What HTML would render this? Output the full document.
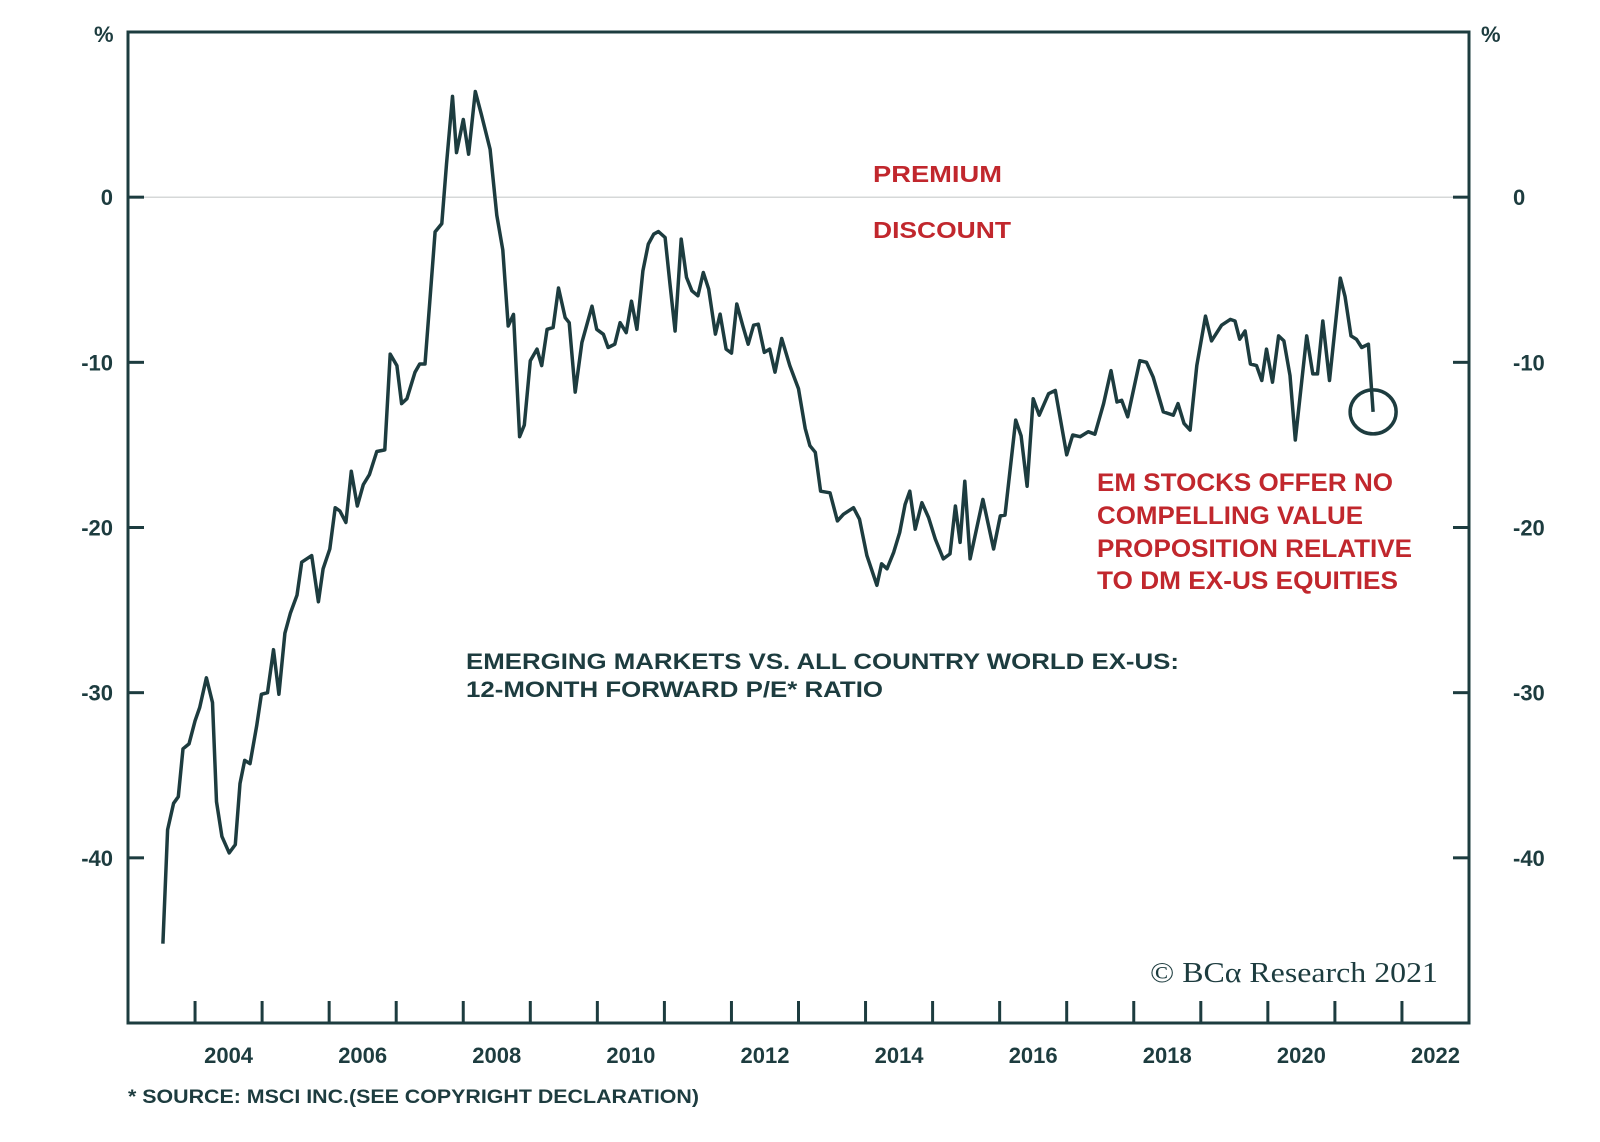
<!DOCTYPE html>
<html><head><meta charset="utf-8"><style>
html,body{margin:0;padding:0;background:#fff;}
svg{display:block;}
text{font-family:"Liberation Sans",Arial,sans-serif;font-weight:bold;}
</style></head><body>
<svg id="chart" width="1600" height="1142" viewBox="0 0 1600 1142">
<g id="axes"></g>
<g id="series"></g>
<g id="labels"></g>
</svg>
<script>
const dates = [2003.52,2003.59,2003.68,2003.75,2003.82,2003.91,2004.0,2004.07,2004.17,2004.26,2004.32,2004.40,2004.51,2004.60,2004.67,2004.74,2004.82,2004.92,2004.99,2005.08,2005.17,2005.25,2005.34,2005.42,2005.52,2005.59,2005.74,2005.84,2005.91,2006.01,2006.09,2006.16,2006.25,2006.33,2006.42,2006.51,2006.60,2006.71,2006.83,2006.91,2007.01,2007.08,2007.16,2007.28,2007.35,2007.43,2007.50,2007.58,2007.68,2007.75,2007.84,2007.90,2008.00,2008.08,2008.18,2008.27,2008.40,2008.50,2008.59,2008.67,2008.75,2008.84,2008.91,2009.00,2009.10,2009.17,2009.25,2009.34,2009.42,2009.52,2009.58,2009.67,2009.77,2009.92,2009.99,2010.09,2010.16,2010.26,2010.34,2010.43,2010.51,2010.59,2010.68,2010.76,2010.84,2010.91,2011.01,2011.08,2011.16,2011.25,2011.33,2011.41,2011.50,2011.58,2011.66,2011.76,2011.83,2011.92,2012.0,2012.08,2012.17,2012.25,2012.33,2012.40,2012.49,2012.57,2012.65,2012.75,2012.87,2013.0,2013.1,2013.17,2013.25,2013.33,2013.47,2013.58,2013.67,2013.82,2013.91,2014.02,2014.17,2014.24,2014.32,2014.42,2014.51,2014.59,2014.66,2014.74,2014.84,2014.94,2015.04,2015.16,2015.26,2015.34,2015.41,2015.48,2015.56,2015.75,2015.91,2016.01,2016.08,2016.24,2016.32,2016.41,2016.50,2016.59,2016.73,2016.83,2017.0,2017.09,2017.2,2017.32,2017.42,2017.55,2017.66,2017.75,2017.82,2017.91,2018.09,2018.19,2018.29,2018.44,2018.59,2018.66,2018.75,2018.84,2018.94,2019.07,2019.16,2019.31,2019.44,2019.51,2019.58,2019.66,2019.74,2019.83,2019.91,2019.98,2020.07,2020.16,2020.24,2020.33,2020.41,2020.58,2020.67,2020.74,2020.82,2020.92,2021.08,2021.15,2021.24,2021.32,2021.40,2021.50,2021.57];
const values = [-45.2,-38.3,-36.7,-36.3,-33.4,-33.1,-31.7,-30.9,-29.1,-30.6,-36.6,-38.7,-39.7,-39.2,-35.5,-34.1,-34.3,-32.0,-30.1,-30.0,-27.4,-30.1,-26.4,-25.2,-24.1,-22.1,-21.7,-24.5,-22.5,-21.3,-18.8,-19.0,-19.7,-16.6,-18.7,-17.4,-16.8,-15.4,-15.3,-9.5,-10.2,-12.5,-12.2,-10.6,-10.1,-10.1,-6.4,-2.1,-1.6,2.0,6.1,2.7,4.7,2.6,6.4,5.0,2.9,-1.1,-3.2,-7.8,-7.1,-14.5,-13.8,-9.9,-9.2,-10.2,-8.0,-7.9,-5.5,-7.3,-7.6,-11.8,-8.8,-6.6,-8.0,-8.3,-9.1,-8.9,-7.6,-8.2,-6.3,-8.0,-4.46,-2.84,-2.24,-2.08,-2.44,-5.16,-8.1,-2.54,-4.86,-5.67,-5.97,-4.56,-5.57,-8.29,-7.08,-9.2,-9.44,-6.47,-7.79,-8.9,-7.75,-7.69,-9.4,-9.2,-10.6,-8.56,-10.2,-11.6,-14.0,-15.05,-15.45,-17.8,-17.9,-19.6,-19.2,-18.8,-19.5,-21.7,-23.5,-22.2,-22.5,-21.5,-20.3,-18.6,-17.8,-20.1,-18.5,-19.4,-20.7,-21.9,-21.6,-18.7,-20.9,-17.2,-21.9,-18.3,-21.3,-19.3,-19.25,-13.5,-14.45,-17.5,-12.2,-13.2,-11.9,-11.7,-15.6,-14.4,-14.5,-14.2,-14.35,-12.5,-10.5,-12.4,-12.3,-13.3,-9.9,-10.0,-10.9,-13.0,-13.2,-12.5,-13.7,-14.1,-10.2,-7.2,-8.7,-7.75,-7.4,-7.5,-8.6,-8.1,-10.1,-10.2,-11.1,-9.2,-11.2,-8.4,-8.7,-10.8,-14.7,-8.4,-10.7,-10.7,-7.5,-11.1,-4.9,-6.0,-8.4,-8.6,-9.1,-8.9,-13.0];
const yTicks = [0,-10,-20,-30,-40];
const yTickLabels = ["0","-10","-20","-30","-40"];
const xTickYears = [2004,2005,2006,2007,2008,2009,2010,2011,2012,2013,2014,2015,2016,2017,2018,2019,2020,2021,2022];
const xLabelYears = [2004,2006,2008,2010,2012,2014,2016,2018,2020,2022];

const NS="http://www.w3.org/2000/svg";
const L=128,R=1469,T=32,B=1023,X0=2003,X1=2023,Y0=10,Y1=-50;
const C="#1d3c3f", RED="#c1272d";
function xs(v){return L+(v-X0)/(X1-X0)*(R-L);}
function ys(v){return T+(Y0-v)/(Y0-Y1)*(B-T);}
function mk(tag,attrs,parent,txt){const e=document.createElementNS(NS,tag);for(const k in attrs)e.setAttribute(k,attrs[k]);if(txt!==undefined)e.textContent=txt;parent.appendChild(e);return e;}
const ax=document.getElementById('axes'), se=document.getElementById('series'), lb=document.getElementById('labels');

let z=mk('line',{x1:L,x2:R,y1:ys(0),y2:ys(0),stroke:"#c8cccc","stroke-width":1.2},ax);


let fr=mk('rect',{x:L,y:T,width:R-L,height:B-T,fill:"none",stroke:C,"stroke-width":3},ax);



yTicks.forEach((v,i)=>{
  let y=ys(v);
  let t1=mk('line',{x1:L,x2:L+16,y1:y,y2:y,stroke:C,"stroke-width":3},ax);
  
  
  let t2=mk('line',{x1:R-16,x2:R,y1:y,y2:y,stroke:C,"stroke-width":3},ax);
  
  
  let a=mk('text',{x:113,y:y+8,"text-anchor":"end","font-size":22,fill:C},lb,yTickLabels[i]);
  
  
  let b=mk('text',{x:1513,y:y+8,"text-anchor":"start","font-size":22,fill:C},lb,yTickLabels[i]);
  
  
});
xTickYears.forEach(v=>{
  let x=xs(v);
  let t=mk('line',{x1:x,x2:x,y1:B-22,y2:B,stroke:C,"stroke-width":3},ax);
  
  
});
xLabelYears.forEach(v=>{
  let t=mk('text',{x:xs(v+0.5),y:1063,"text-anchor":"middle","font-size":22,fill:C},lb,String(v));
  
  
});

let d=dates.map((t,i)=>(i?'L':'M')+xs(t).toFixed(1)+','+ys(values[i]).toFixed(1)).join(' ');
let p=mk('path',{d:d,fill:"none",stroke:C,"stroke-width":3.5,"stroke-linejoin":"round"},se);


const li=dates.length-1;
let c=mk('ellipse',{cx:xs(dates[li]),cy:ys(values[li]),rx:23,ry:22,fill:"none",stroke:C,"stroke-width":3.5},se);


</script>
<div style="position:absolute;left:0;top:0;width:1600px;height:1142px;pointer-events:none">
<svg width="1600" height="1142" viewBox="0 0 1600 1142" style="position:absolute;left:0;top:0">
<text x="94" y="42" font-size="22" fill="#1d3c3f">%</text>
<text x="1481" y="42" font-size="22" fill="#1d3c3f">%</text>
<text x="873" y="182" font-size="23" fill="#c1272d" textLength="129" lengthAdjust="spacingAndGlyphs">PREMIUM</text>
<text x="873" y="238" font-size="23" fill="#c1272d" textLength="138" lengthAdjust="spacingAndGlyphs">DISCOUNT</text>
<text x="466" y="669" font-size="22" fill="#1d3c3f" textLength="713" lengthAdjust="spacingAndGlyphs">EMERGING MARKETS VS. ALL COUNTRY WORLD EX-US:</text>
<text x="466" y="697" font-size="22" fill="#1d3c3f" textLength="417" lengthAdjust="spacingAndGlyphs">12-MONTH FORWARD P/E* RATIO</text>
<g fill="#c1272d" font-size="25">
<text x="1097" y="491" textLength="296" lengthAdjust="spacingAndGlyphs">EM STOCKS OFFER NO</text>
<text x="1097" y="524" textLength="266" lengthAdjust="spacingAndGlyphs">COMPELLING VALUE</text>
<text x="1097" y="557" textLength="315" lengthAdjust="spacingAndGlyphs">PROPOSITION RELATIVE</text>
<text x="1097" y="589" textLength="301" lengthAdjust="spacingAndGlyphs">TO DM EX-US EQUITIES</text>
</g>
<text x="1150" y="982" font-size="28" fill="#1d3c3f" style="font-family:'Liberation Serif',serif;font-weight:normal" textLength="288" lengthAdjust="spacingAndGlyphs">© BCα Research 2021</text>
<text x="128" y="1103" font-size="19" fill="#1d3c3f" textLength="571" lengthAdjust="spacingAndGlyphs">* SOURCE: MSCI INC.(SEE COPYRIGHT DECLARATION)</text>
</svg>
</div>
</body></html>
